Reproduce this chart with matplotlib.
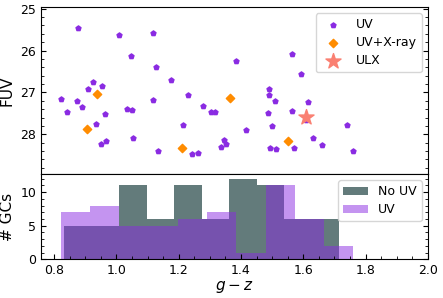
import numpy as np
import matplotlib
matplotlib.use("Agg")
import matplotlib.pyplot as plt
from matplotlib.ticker import AutoMinorLocator

# UV-detected GCs (g-z, FUV)
uv_gz = [0.878, 1.008, 1.119, 1.046, 1.126, 1.174, 0.924, 0.954, 0.910, 0.821,
         0.874, 1.119, 1.230, 0.890, 0.842, 1.034, 1.050, 0.964, 1.279, 1.304,
         1.318, 0.933, 1.215, 1.053, 0.952, 0.965, 1.135, 1.242, 1.262, 1.384,
         1.564, 1.591, 1.491, 1.491, 1.508, 1.614, 1.563, 1.486, 1.499, 1.740,
         1.416, 1.630, 1.346, 1.352, 1.336, 1.494, 1.512, 1.571, 1.659, 1.760,
         1.610]
uv_fuv = [25.47, 25.63, 25.59, 26.13, 26.39, 26.70, 26.76, 26.84, 26.92, 27.16,
          27.21, 27.18, 27.06, 27.35, 27.48, 27.39, 27.43, 27.52, 27.33, 27.48,
          27.47, 27.75, 27.79, 28.10, 28.23, 28.17, 28.39, 28.47, 28.45, 26.24,
          26.09, 26.56, 26.92, 27.06, 27.20, 27.24, 27.44, 27.50, 27.80, 27.77,
          27.89, 28.08, 28.14, 28.24, 28.31, 28.32, 28.36, 28.32, 28.25, 28.39,
          27.65]

# UV + X-ray
xr_gz = [0.937, 0.905, 1.211, 1.365, 1.552]
xr_fuv = [27.03, 27.88, 28.33, 27.13, 28.16]

# ULX
ulx_gz = [1.608]
ulx_fuv = [27.58]

# histograms (counts per bin)
nouv_counts = [5, 5, 11, 6, 11, 6, 12, 11, 6, 6]
nouv_range = (0.832, 1.715)
uvh_counts = [7, 8, 5, 5, 6, 7, 1, 11, 6, 2]
uvh_range = (0.822, 1.760)

fig = plt.figure(figsize=(4.43, 2.98), dpi=100)
gs = fig.add_gridspec(2, 1, height_ratios=[166.5, 85], hspace=0,
                      left=0.0926, right=0.966, top=0.9765, bottom=0.13)
ax1 = fig.add_subplot(gs[0])
ax2 = fig.add_subplot(gs[1], sharex=ax1)

ax1.scatter(uv_gz, uv_fuv, marker="p", s=14, color="blueviolet", label="UV", zorder=2)
ax1.scatter(xr_gz, xr_fuv, marker="D", s=18, color="darkorange", label="UV+X-ray", zorder=3)
ax1.scatter(ulx_gz, ulx_fuv, marker="*", s=130, color="salmon", label="ULX", zorder=4)
ax1.set_ylim(28.95, 24.96)
ax1.set_ylabel("FUV", fontsize=11, labelpad=4)
ax1.legend(loc="upper right", fontsize=9, labelspacing=0.4)
plt.setp(ax1.get_xticklabels(), visible=False)

edges_nouv = np.linspace(nouv_range[0], nouv_range[1], len(nouv_counts) + 1)
edges_uv = np.linspace(uvh_range[0], uvh_range[1], len(uvh_counts) + 1)
ax2.hist(edges_nouv[:-1], bins=edges_nouv, weights=nouv_counts,
         color="darkslategray", alpha=0.75, label="No UV")
ax2.hist(edges_uv[:-1], bins=edges_uv, weights=uvh_counts,
         color="blueviolet", alpha=0.5, label="UV")
ax2.set_xlim(0.758, 2.0)
ax2.set_ylim(0, 12.7)
ax2.set_ylabel("# GCs", fontsize=11, labelpad=4)
ax2.set_xlabel("$g-z$", fontsize=11, labelpad=1)
ax2.legend(loc="upper right", fontsize=9, labelspacing=0.4)

for ax in (ax1, ax2):
    ax.xaxis.set_minor_locator(AutoMinorLocator())
    ax.yaxis.set_minor_locator(AutoMinorLocator())
    ax.tick_params(which="both", direction="in", right=True, labelsize=9)
ax1.tick_params(axis="x", which="both", bottom=False)

fig.savefig("out.png", dpi=100)
